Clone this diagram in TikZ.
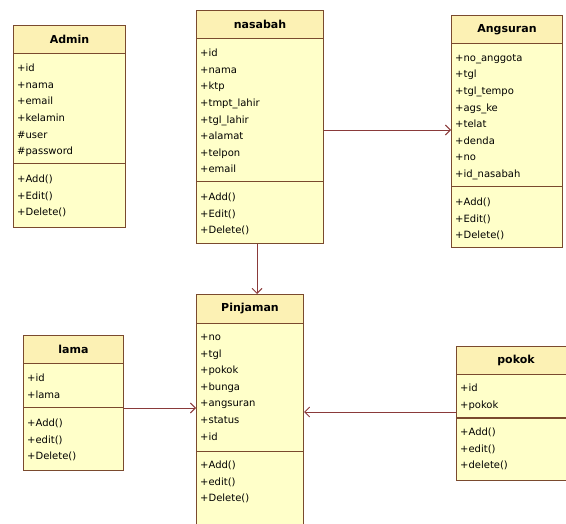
\documentclass[tikz,border=0pt]{standalone}
\usepackage{fontspec}
\setmainfont{DejaVu Sans}
\usetikzlibrary{arrows.meta,calc}
\definecolor{boxbody}{HTML}{FFFFC9}
\definecolor{boxhead}{HTML}{FCF1B4}
\definecolor{boxline}{HTML}{7A4A2E}
\definecolor{linkcol}{HTML}{8A3A3A}
\tikzset{
  classbox/.style={draw=boxline, line width=1pt, fill=boxbody, rectangle, inner sep=0pt, anchor=north west},
  headbox/.style={draw=boxline, line width=1pt, fill=boxhead, rectangle, inner sep=0pt, anchor=north west},
  titletext/.style={font=\fontsize{11}{12}\selectfont\bfseries, text=black, inner sep=0pt},
  membertext/.style={font=\fontsize{10}{16.6}\selectfont, text=black, align=left, anchor=north west, inner sep=0pt},
  divider/.style={draw=boxline, line width=1pt},
  assoc/.style={draw=linkcol, line width=0.9pt, -{Straight Barb[length=5pt,width=10pt,line width=0.9pt]}},
}
\newcommand{\umlclass}[9]{%
  % #1 name, #2 x, #3 top, #4 width, #5 head bottom, #6 divider, #7 bottom, #8 title, #9 members
  \node[classbox, minimum width=#4pt, minimum height={(#7-#3)*1pt}] (#1) at (#2,-#3) {};
  \node[headbox, minimum width=#4pt, minimum height={(#5-#3)*1pt}] (#1-head) at (#2,-#3) {};
  \node[titletext] (#1-title) at (#1-head.center) {#8};
  \draw[divider] ($(#1.north west)+(0,-#6+#3)$) -- ($(#1.north east)+(0,-#6+#3)$);
  #9
}
\begin{document}
\begin{tikzpicture}[x=1pt,y=1pt]
\useasboundingbox (0,0) rectangle (566,-524);
\clip (0,0) rectangle (566,-524);
\fill[white] (0,0) rectangle (566,-524);

% Admin
\umlclass{admin}{13}{25}{112}{53}{164}{227}{Admin}{%
  \node[membertext] (admin-attr) at (17,-64) {+id\\+nama\\+email\\+kelamin\\\#user\\\#password};
  \node[membertext] (admin-meth) at (17,-175) {+Add()\\+Edit()\\+Delete()};}

% nasabah
\umlclass{nasabah}{196}{10}{127}{38}{182}{243}{nasabah}{%
  \node[membertext] (nasabah-attr) at (200,-49) {+id\\+nama\\+ktp\\+tmpt\_lahir\\+tgl\_lahir\\+alamat\\+telpon\\+email};
  \node[membertext] (nasabah-meth) at (200,-193) {+Add()\\+Edit()\\+Delete()};}

% Angsuran
\umlclass{angsuran}{451}{15}{111}{43}{187}{247}{Angsuran}{%
  \node[membertext] (angsuran-attr) at (455,-54) {+no\_anggota\\+tgl\\+tgl\_tempo\\+ags\_ke\\+telat\\+denda\\+no\\+id\_nasabah};
  \node[membertext] (angsuran-meth) at (455,-198) {+Add()\\+Edit()\\+Delete()};}

% lama
\umlclass{lama}{23}{335}{100}{363}{408}{470}{lama}{%
  \node[membertext] (lama-attr) at (27,-374) {+id\\+lama};
  \node[membertext] (lama-meth) at (27,-419) {+Add()\\+edit()\\+Delete()};}

% Pinjaman
\umlclass{pinjaman}{196}{294}{107}{323}{451}{534}{Pinjaman}{%
  \node[membertext] (pinjaman-attr) at (200,-334) {+no\\+tgl\\+pokok\\+bunga\\+angsuran\\+status\\+id};
  \node[membertext] (pinjaman-meth) at (200,-461) {+Add()\\+edit()\\+Delete()};}

% pokok
\umlclass{pokok}{456}{346}{119}{374}{418}{480}{pokok}{%
  \node[membertext] (pokok-attr) at (460,-384) {+id\\+pokok};
  \node[membertext] (pokok-meth) at (460,-428) {+Add()\\+edit()\\+delete()};}

% connectors
\draw[assoc] (nasabah.south -| 257,0) -- (pinjaman.north -| 257,0);
\draw[assoc] (nasabah.east |- 0,-130) -- (angsuran.west |- 0,-130);
\draw[assoc] (lama.east |- 0,-408) -- (pinjaman.west |- 0,-408);
\draw[assoc] (pokok.west |- 0,-412) -- (pinjaman.east |- 0,-412);
\end{tikzpicture}
\end{document}
